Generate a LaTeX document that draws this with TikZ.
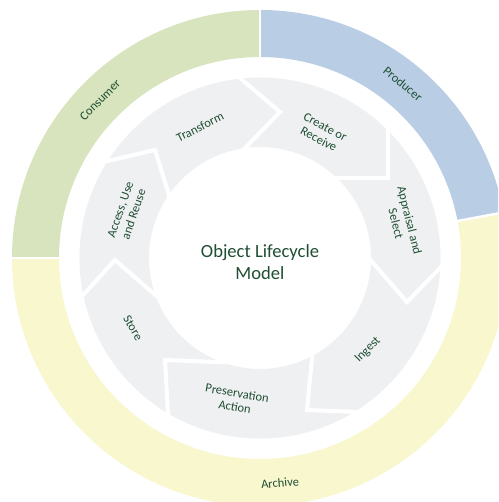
\documentclass[tikz,border=0pt]{standalone}
\usepackage{fontspec}
\setmainfont{Carlito}
\definecolor{consumerc}{HTML}{D7E4BD}
\definecolor{producerc}{HTML}{B9CDE4}
\definecolor{archivec}{HTML}{F9F7CE}
\definecolor{ringc}{HTML}{EFF0F2}
\definecolor{txtc}{HTML}{1F4E33}
\tikzset{
  x=1pt, y=1pt,
  band/.style={line width=0pt},
  gapline/.style={white, line width=4pt, line join=miter, shorten <=-8pt, shorten >=-8pt},
  sepline/.style={white, line width=2.5pt},
  lbl/.style={text=txtc, font=\fontsize{12.5}{14}\selectfont, align=center, inner sep=0pt},
  title/.style={text=txtc, font=\fontsize{18.6}{22}\selectfont, align=center, inner sep=0pt}
}
\begin{document}
\begin{tikzpicture}
\useasboundingbox (-260,-244) rectangle (238,258);
\clip (-260,-244) rectangle (238,258);
\fill[white] (-260,-244) rectangle (238,258);
% outer ring
\fill[consumerc] (90:248) arc[start angle=90,end angle=180,radius=248] -- (180:201) arc[start angle=180,end angle=90,radius=201] -- cycle;
\fill[producerc] (10.6:248) arc[start angle=10.6,end angle=90,radius=248] -- (90:201) arc[start angle=90,end angle=10.6,radius=201] -- cycle;
\fill[archivec] (180:248) arc[start angle=180,end angle=370.6,radius=248] -- (370.6:201) arc[start angle=370.6,end angle=180,radius=201] -- cycle;
\draw[sepline] (90:198) -- (90:252);
\draw[sepline] (180:198) -- (180:252);
\draw[sepline] (10.6:198) -- (10.6:252);
% inner chevron ring
\fill[ringc, even odd rule] (0,0) circle[radius=180.5] (0,0) circle[radius=111];
\coordinate (o1) at (-20,180); \coordinate (t1) at (20,146); \coordinate (i1) at (-12,113);
\coordinate (o2) at (128,126.5); \coordinate (t2) at (128,80); \coordinate (i2) at (80,80);
\coordinate (o3) at (180,-10); \coordinate (t3) at (147,-44); \coordinate (i3) at (113,-5);
\coordinate (o4) at (98,-154); \coordinate (t4) at (47,-152); \coordinate (i4) at (52,-100);
\coordinate (o5) at (-92,-155); \coordinate (t5) at (-95,-102); \coordinate (i5) at (-43,-104);
\coordinate (o6) at (-175,-35); \coordinate (t6) at (-145,-2); \coordinate (i6) at (-107,-35);
\coordinate (o7) at (-157,96); \coordinate (t7) at (-105,108); \coordinate (i7) at (-92,66);
\foreach \k in {1,...,7} {
  \draw[gapline] (o\k) -- (t\k) -- (i\k);
}
% labels
\node[lbl, rotate=45] (consumer) at (-160,158) {Consumer};
\node[lbl, rotate=-39.4] (producer) at (143,174) {Producer};
\node[lbl, rotate=5] (archive) at (20,-225) {Archive};
\node[lbl, rotate=27] (transform) at (-60,131) {Transform};
\node[lbl, rotate=-28] (create) at (62,125) {Create or\\Receive};
\node[lbl, rotate=-76] (appraisal) at (143,36) {Appraisal and\\Select};
\node[lbl, rotate=45] (ingest) at (108,-92) {Ingest};
\node[lbl, rotate=-9.6] (preservation) at (-24,-142) {Preservation\\Action};
\node[lbl, rotate=-60] (store) at (-127,-70) {Store};
\node[lbl, rotate=71] (access) at (-133,46) {Access, Use\\and Reuse};
\node[title] (center) at (0,-4) {Object Lifecycle\\Model};
\end{tikzpicture}
\end{document}
